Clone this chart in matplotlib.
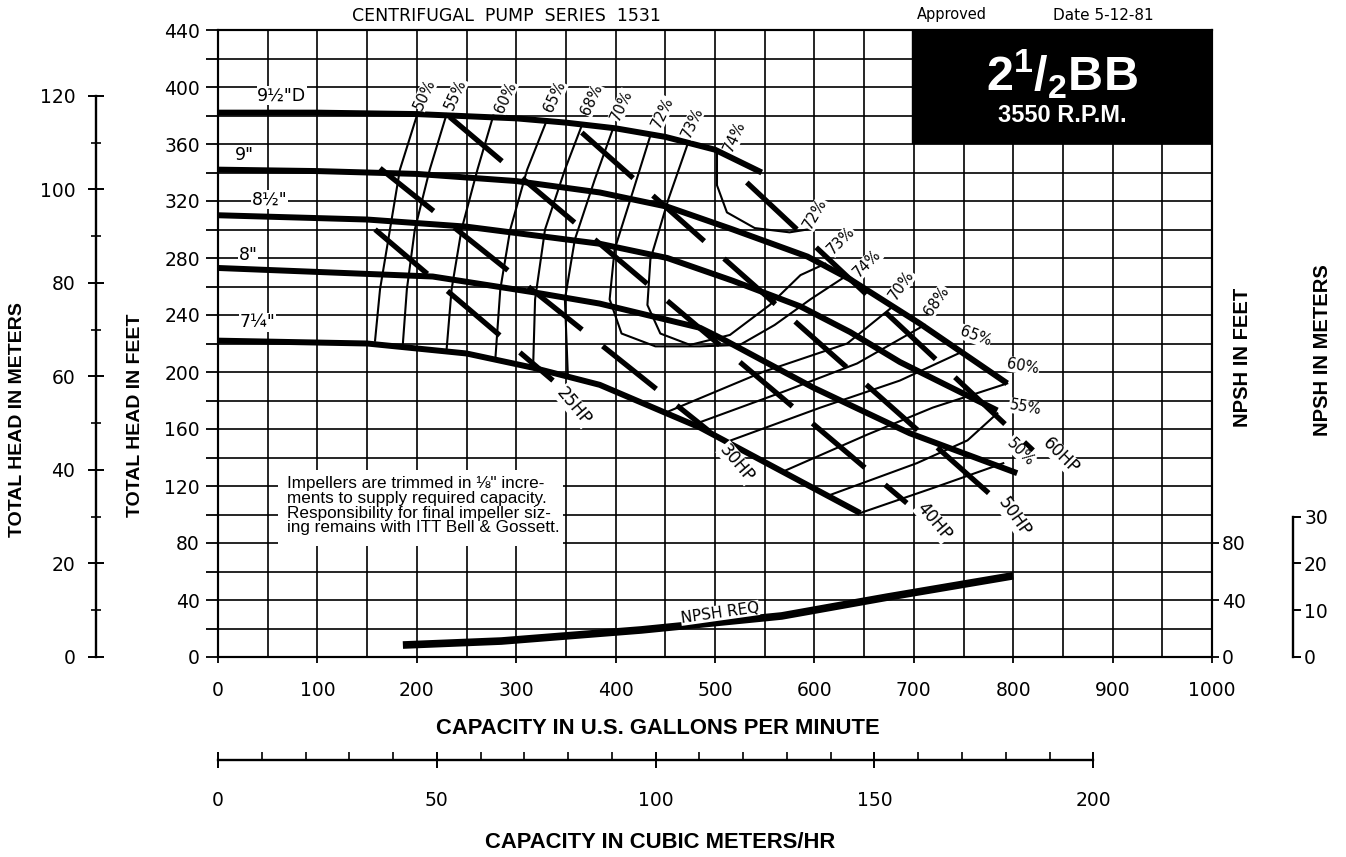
import matplotlib
matplotlib.use("Agg")
import matplotlib.pyplot as plt
from matplotlib.patches import Rectangle
import numpy as np

# ---- impeller head curves: capacity (US gpm) / total head (ft)
imp_names = ['9½"D', '9"', '8½"', '8"', '7¼"']
imp_95_q = [0, 100, 200, 300, 350, 400, 450, 500, 547]
imp_95_h = [382, 382, 381, 378, 375, 371, 365, 356, 340]
imp_90_q = [0, 100, 200, 300, 384, 452, 518, 593, 636, 706, 794]
imp_90_h = [342, 341, 339, 334, 326, 316, 300, 281, 265, 234, 192]
imp_85_q = [0, 150, 250, 317, 384, 452, 518, 586, 636, 686, 784]
imp_85_h = [310, 307, 302, 296, 290, 280, 264, 246, 228, 207, 173]
imp_80_q = [0, 216, 317, 384, 485, 508, 599, 696, 804]
imp_80_h = [273, 267, 256, 248, 231, 223, 189, 157, 129]
imp_725_q = [0, 150, 250, 317, 384, 485, 552, 646]
imp_725_h = [222, 220, 213, 203, 191, 161, 136, 101]

# ---- efficiency contours, low-flow side
eff_left_names = ['50%', '55%', '60%', '65%', '68%', '70%', '72%', '73%', '74%']
eff_left_q = [[201, 183, 173, 163, 158],
              [230, 213, 198, 190, 186],
              [277, 261, 245, 235, 230],
              [331, 311, 294, 284, 279],
              [366, 349, 329, 319, 317],
              [397, 379, 359, 349, 352],
              [435, 418, 399, 394, 406, 440, 485, 525, 560, 596, 631],
              [473, 453, 435, 432, 445, 475, 515, 555, 586, 611],
              [502, 502, 512, 540, 575, 593]]
eff_left_h = [[382, 342, 300, 258, 222],
              [381, 342, 300, 258, 220],
              [380, 342, 300, 258, 216],
              [377, 342, 300, 258, 209],
              [373, 342, 300, 251, 203],
              [370, 335, 293, 251, 197],
              [366, 328, 286, 251, 227, 218, 218, 219, 233, 251, 267],
              [361, 321, 279, 247, 227, 219, 226, 247, 268, 276],
              [354, 331, 312, 301, 298, 300]]

# ---- efficiency contours, high-flow side
eff_right_names = ['70%', '68%', '65%', '60%', '55%', '50%']
eff_right_q = [[452, 548, 633, 679],
               [478, 572, 643, 711],
               [512, 606, 686, 748],
               [568, 653, 719, 794],
               [613, 703, 754, 784],
               [646, 721, 790]]
eff_right_h = [[172, 200, 220, 246],
               [163, 187, 206, 233],
               [151, 175, 194, 214],
               [130, 156, 175, 192],
               [113, 136, 152, 171],
               [101, 119, 136]]

# ---- brake horsepower lines
hp_names = ['25HP', '30HP', '40HP', '50HP', '60HP']
hp_q = [[158, 337], [163, 495], [233, 693], [366, 777], [532, 820]]
hp_h = [[300, 194], [343, 158], [379, 108], [368, 114], [333, 145]]

# ---- NPSH required (ft)
npsh_q = [186, 285, 426, 567, 673, 800]
npsh_h = [8.4, 11.2, 19, 28.8, 42, 57]

FT_TO_M = 0.3048
GPM_TO_M3H = 0.22712

SANS = ['Liberation Sans', 'DejaVu Sans']
plt.rcParams['font.family'] = ['DejaVu Sans']
plt.rcParams['mathtext.fontset'] = 'custom'
plt.rcParams['mathtext.bf'] = 'Liberation Sans:bold'
plt.rcParams['mathtext.rm'] = 'Liberation Sans'

W, H = 1346, 857
fig = plt.figure(figsize=(W / 100, H / 100), dpi=100)


def box(x0, y0, x1, y1):
    # pixel rectangle -> figure fraction
    return [x0 / W, 1 - y1 / H, (x1 - x0) / W, (y1 - y0) / H]


ax = fig.add_axes(box(218, 30, 1212, 657))
ax.set_xlim(0, 1000)
ax.set_ylim(0, 440)
ax.set_xticks(np.arange(0, 1001, 100))
ax.set_xticks(np.arange(0, 1001, 50), minor=True)
ax.set_yticks(np.arange(0, 441, 40))
ax.set_yticks(np.arange(0, 441, 20), minor=True)
ax.grid(True, which='both', color='black', lw=1.2)
ax.set_axisbelow(True)
ax.tick_params(axis='y', which='both', direction='out', length=9, width=1.3,
               labelsize=13.5, pad=4)
ax.tick_params(axis='x', which='major', direction='out', length=4, width=1.3,
               labelsize=13.5, pad=13)
ax.tick_params(axis='x', which='minor', length=0)
for s in ax.spines.values():
    s.set_linewidth(1.5)

# NPSH feet on the right
axr = ax.twinx()
axr.set_ylim(0, 440)
axr.set_yticks([0, 40, 80])
axr.tick_params(direction='out', length=5, width=1.3, labelsize=13.5, pad=2)
for s in axr.spines.values():
    s.set_linewidth(1.5)

# head curves
for q, h in [(imp_95_q, imp_95_h), (imp_90_q, imp_90_h), (imp_85_q, imp_85_h),
             (imp_80_q, imp_80_h), (imp_725_q, imp_725_h)]:
    ax.plot(q, h, color='black', lw=4.3, solid_capstyle='butt',
            solid_joinstyle='round', zorder=4)

# efficiency lines
for q, h in zip(eff_left_q, eff_left_h):
    ax.plot(q, h, color='black', lw=1.5, zorder=3)
for q, h in zip(eff_right_q, eff_right_h):
    ax.plot(q, h, color='black', lw=1.5, zorder=3)

# horsepower lines (heavy dashes)
for q, h in zip(hp_q, hp_h):
    ax.plot(q, h, color='black', lw=3.8, dashes=(13, 5), solid_capstyle='butt',
            zorder=4)

# NPSH curve
ax.plot(npsh_q, npsh_h, color='black', lw=5.5, solid_capstyle='butt', zorder=4)
ax.text(505, 31, 'NPSH REQ', fontsize=11, rotation=8, ha='center', va='center',
        zorder=6, bbox=dict(fc='white', ec='none', pad=0.1))

lbl_box = dict(fc='white', ec='none', pad=0.4)

# impeller labels
imp_pos = [(64, 394), (27, 352), (52, 321), (30, 282), (40, 235)]
for name, (q, h) in zip(imp_names, imp_pos):
    ax.text(q, h, name, fontsize=12.5, ha='center', va='center', zorder=6,
            bbox=lbl_box)

# efficiency labels along the top
top_pos = [(208, 395), (239, 395), (289, 393), (339, 393), (376, 391),
           (406, 387), (447, 382), (477, 375), (520, 365)]
for name, (q, h) in zip(eff_left_names, top_pos):
    ax.text(q, h, name, fontsize=10.5, rotation=65, ha='center', va='center',
            rotation_mode='anchor', zorder=6,
            bbox=dict(fc='white', ec='none', pad=0.2))

# efficiency labels on the right
right_names = ['72%', '73%', '74%', '70%', '68%', '65%', '60%', '55%', '50%']
right_pos = [(601, 311), (627, 292), (653, 276), (688, 261), (723, 250),
             (762, 225), (810, 204), (812, 175), (807, 144)]
right_rot = [60, 45, 45, 55, 55, -20, -10, -10, -45]
for name, (q, h), r in zip(right_names, right_pos, right_rot):
    ax.text(q, h, name, fontsize=10.5, rotation=r, ha='center', va='center',
            rotation_mode='anchor', zorder=6,
            bbox=dict(fc='white', ec='none', pad=0.2))

# HP labels
hp_pos = [(358, 176), (522, 136), (720, 95), (801, 98), (848, 141)]
hp_rot = [-50, -50, -50, -55, -45]
for name, (q, h), r in zip(hp_names, hp_pos, hp_rot):
    ax.text(q, h, name, fontsize=12, rotation=r, ha='center', va='center',
            rotation_mode='anchor', zorder=6, bbox=lbl_box)

# note
ax.add_patch(Rectangle((60, 78), 287, 53, fc='white', ec='none', zorder=3))
ax.text(69, 127, 'Impellers are trimmed in ⅛" incre-\n'
        'ments to supply required capacity.\n'
        'Responsibility for final impeller siz-\n'
        'ing remains with ITT Bell & Gossett.',
        family=SANS, fontsize=12.3, ha='left', va='top', linespacing=0.98,
        zorder=6)

# model block
ax.add_patch(Rectangle((698, 360.7), 302, 79.3, fc='black', ec='black', zorder=7))
ax.text(849, 409, r'$\mathbf{2^{1}/_{2}BB}$', color='white', fontsize=35,
        ha='center', va='center', zorder=8)
ax.text(849, 380, '3550 R.P.M.', color='white', fontsize=17, fontweight='bold',
        family=SANS, ha='center', va='center', zorder=8)

# meters scale on the far left
axm = fig.add_axes(box(96, 30, 97, 657))
axm.patch.set_visible(False)
axm.set_ylim(0, 440 * FT_TO_M)
axm.set_xticks([])
for s in ['top', 'right', 'bottom']:
    axm.spines[s].set_visible(False)
axm.spines['left'].set_bounds(0, 120)
axm.spines['left'].set_linewidth(1.7)
axm.set_yticks(np.arange(0, 121, 20))
axm.set_yticks(np.arange(0, 121, 10), minor=True)
axm.tick_params(which='major', direction='inout', length=12, width=1.4,
                labelsize=13.5, pad=9)
axm.tick_params(which='minor', direction='inout', length=7, width=1.2)

# NPSH meters scale on the far right
axn = fig.add_axes(box(1292, 30, 1293, 657))
axn.patch.set_visible(False)
axn.set_ylim(0, 440 * FT_TO_M)
axn.set_xticks([])
for s in ['top', 'left', 'bottom']:
    axn.spines[s].set_visible(False)
axn.spines['right'].set_bounds(0, 30)
axn.spines['right'].set_linewidth(1.7)
axn.set_yticks([0, 10, 20, 30])
axn.tick_params(left=False, labelleft=False, right=True, labelright=True,
                direction='out', length=6, width=1.4, labelsize=13.5, pad=2)

# cubic metres per hour scale under the chart
axc = fig.add_axes(box(218, 759, 1212, 760))
axc.patch.set_visible(False)
axc.set_xlim(0, 1000 * GPM_TO_M3H)
axc.set_yticks([])
for s in ['top', 'left', 'right']:
    axc.spines[s].set_visible(False)
axc.spines['bottom'].set_bounds(0, 200)
axc.spines['bottom'].set_linewidth(1.7)
axc.set_xticks(np.arange(0, 201, 50))
axc.set_xticks(np.arange(0, 201, 10), minor=True)
axc.tick_params(which='major', direction='inout', length=12, width=1.4,
                labelsize=13.5, pad=16)
axc.tick_params(which='minor', direction='in', length=6, width=1.2)

# titles
tkw = dict(fontweight='bold', family=SANS, ha='center', va='center')
fig.text(18 / W, 1 - 420 / H, 'TOTAL HEAD IN METERS', rotation=90,
         fontsize=14, **tkw)
fig.text(135 / W, 1 - 415 / H, 'TOTAL HEAD IN FEET', rotation=90,
         fontsize=14, **tkw)
fig.text(1243 / W, 1 - 357 / H, 'NPSH IN FEET', rotation=90, fontsize=14.5, **tkw)
fig.text(1322 / W, 1 - 350 / H, 'NPSH IN METERS', rotation=90, fontsize=14.5, **tkw)
fig.text(658 / W, 1 - 728 / H, 'CAPACITY IN U.S. GALLONS PER MINUTE',
         fontsize=15.8, **tkw)
fig.text(660 / W, 1 - 843 / H, 'CAPACITY IN CUBIC METERS/HR', fontsize=15.8, **tkw)

fig.text(506 / W, 1 - 16 / H, 'CENTRIFUGAL  PUMP  SERIES  1531', fontsize=12.5,
         ha='center', va='center')
fig.text(952 / W, 1 - 15 / H, 'Approved', fontsize=10.5, ha='center', va='center')
fig.text(1103 / W, 1 - 15 / H, 'Date 5-12-81', fontsize=11, ha='center', va='center')

fig.savefig('out.png', dpi=100)
